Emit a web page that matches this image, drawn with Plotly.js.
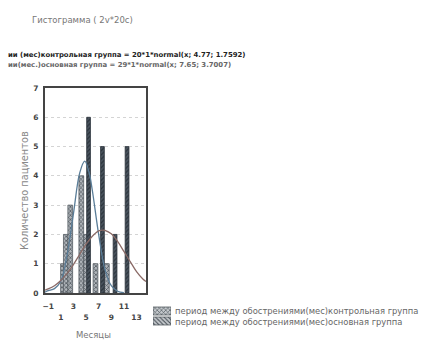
<!DOCTYPE html>
<html>
<head>
<meta charset="utf-8">
<script src="https://cdn.plot.ly/plotly-3.0.1.min.js"></script>
<style>html,body{margin:0;padding:0;background:#fff;}#chart{width:427px;height:340px;}</style>
</head>
<body>
<div id="chart"></div>
<script>
// hatched bars (control group), positions and counts
const controlX = [1.35, 1.8, 2.5, 4.25, 5.0, 6.5, 8.3];
const controlY = [1, 2, 3, 4, 2, 1, 1];
// dark bars (main group)
const mainX = [5.4, 7.6, 9.6, 11.5];
const mainY = [6, 5, 2, 5];
// fitted normal curves
const controlCurveX = [-1.5, -1, 0, 1, 2, 3, 4, 4.8, 5.5, 6, 7, 8, 9, 10, 11];
const controlCurveY = [0.03, 0.08, 0.15, 0.4, 1.3, 2.7, 4.1, 4.5, 4.1, 3.5, 2.0, 0.8, 0.25, 0.06, 0.01];
const mainCurveX = [-1.5, -1, 0, 1, 2, 3, 4, 5, 6, 7, 7.65, 8, 9, 10, 11, 12, 13, 14, 14.5];
const mainCurveY = [0.1, 0.14, 0.25, 0.43, 0.67, 0.97, 1.32, 1.67, 1.94, 2.12, 2.15, 2.14, 2.02, 1.76, 1.42, 1.07, 0.73, 0.48, 0.39];
const tickRow1 = [-1, 3, 7, 11];
const tickRow2 = [1, 5, 9, 13];
const yTicks = [0, 1, 2, 3, 4, 5, 6, 7];
const legendNames = ['период между обострениями(мес)контрольная группа', 'период между обострениями(мес)основная группа'];
const titleText = 'Гистограмма ( 2v*20c)';
const fitLines = ['ии (мес)контрольная группа = 20*1*normal(x; 4.77; 1.7592)',
                  'ии(мес.)основная группа = 29*1*normal(x; 7.65; 3.7007)'];

const W = 427, H = 340;
const px = v => v / W;          // pixel x -> paper
const py = v => (H - v) / H;    // pixel y -> paper
const font = 'DejaVu Sans, Verdana, sans-serif';
const xRange = [-1.5, 14.5];

const controlMarker = {color: '#a6abb0', line: {color: '#555d63', width: 0.8},
  pattern: {shape: 'x', fgcolor: '#454d54', bgcolor: '#b0b5ba', size: 3, solidity: 0.4}};
const mainMarker = {color: '#3c4650', line: {color: '#2c343c', width: 0.8},
  pattern: {shape: '/', fgcolor: '#2b333b', bgcolor: '#4a545e', size: 3, solidity: 0.4}};

const traces = [
  {type: 'bar', x: controlX, y: controlY, width: 0.75, name: legendNames[0], marker: controlMarker},
  {type: 'bar', x: mainX, y: mainY, width: 0.6, name: legendNames[1], marker: mainMarker},
  {type: 'scatter', mode: 'lines', x: controlCurveX, y: controlCurveY,
   line: {color: '#5a7d98', width: 1.3, shape: 'spline'}},
  {type: 'scatter', mode: 'lines', x: mainCurveX, y: mainCurveY,
   line: {color: '#8a6a66', width: 1.3, shape: 'spline'}},
  // invisible carrier for the second row of x tick labels
  {type: 'scatter', mode: 'markers', x: [tickRow2[0]], y: [0], xaxis: 'x3', yaxis: 'y',
   marker: {opacity: 0}, hoverinfo: 'skip'},
  // legend swatches
  {type: 'bar', orientation: 'h', x: [1], y: [1], width: 0.8, xaxis: 'x2', yaxis: 'y2',
   marker: {color: '#b0b5ba', line: {color: '#555d63', width: 0.8},
            pattern: {shape: 'x', fgcolor: '#454d54', bgcolor: '#c4c8cc', size: 3, solidity: 0.35}}},
  {type: 'bar', orientation: 'h', x: [1], y: [0], width: 0.8, xaxis: 'x2', yaxis: 'y2',
   marker: {color: '#b0b5ba', line: {color: '#555d63', width: 0.8},
            pattern: {shape: '\\', fgcolor: '#454d54', bgcolor: '#c4c8cc', size: 3, solidity: 0.35}}}
];

const tickFont = {family: font, size: 7.5, color: '#444', weight: 'bold'};

const layout = {
  width: W, height: H,
  margin: {l: 0, r: 0, t: 0, b: 0},
  paper_bgcolor: '#fff', plot_bgcolor: '#fff',
  barmode: 'overlay',
  showlegend: false,
  xaxis: {domain: [px(45), px(146)], range: xRange, tickvals: tickRow1,
          showgrid: false, zeroline: false, showline: true, mirror: true,
          linecolor: '#444', linewidth: 2, ticks: '', ticklabelstandoff: 5,
          tickfont: tickFont},
  xaxis3: {overlaying: 'x', anchor: 'y', side: 'bottom', range: xRange, tickvals: tickRow2,
           showgrid: false, zeroline: false, showline: false, ticks: '', ticklabelstandoff: 18,
           tickfont: tickFont},
  yaxis: {domain: [py(293), py(88)], range: [0, 7], tickvals: yTicks, showgrid: true,
          gridcolor: '#d4d4d4', griddash: 'dot',
          zeroline: false, showline: true, mirror: true, linecolor: '#444', linewidth: 2, ticks: '',
          ticklabelstandoff: 3, tickfont: tickFont},
  xaxis2: {domain: [px(153), px(171)], anchor: 'y2', range: [0, 1], visible: false, fixedrange: true},
  yaxis2: {domain: [py(326), py(306)], anchor: 'x2', range: [-0.5, 1.5], visible: false, fixedrange: true},
  annotations: [
    {xref: 'paper', yref: 'paper', x: px(30), y: py(20), xanchor: 'left', yanchor: 'middle', showarrow: false,
     text: titleText, font: {family: font, size: 8.5, color: '#777'}},
    {xref: 'paper', yref: 'paper', x: px(6), y: py(55), xanchor: 'left', yanchor: 'middle', showarrow: false,
     text: fitLines[0], font: {family: font, size: 6.9, color: '#222', weight: 'bold'}},
    {xref: 'paper', yref: 'paper', x: px(6), y: py(65), xanchor: 'left', yanchor: 'middle', showarrow: false,
     text: fitLines[1], font: {family: font, size: 6.9, color: '#666', weight: 'bold'}},
    {xref: 'paper', yref: 'paper', x: px(24), y: py(191), xanchor: 'center', yanchor: 'middle', showarrow: false,
     textangle: -90, text: 'Количество пациентов', font: {family: font, size: 9.8, color: '#888'}},
    {xref: 'paper', yref: 'paper', x: px(93), y: py(335), xanchor: 'center', yanchor: 'middle', showarrow: false,
     text: 'Месяцы', font: {family: font, size: 8.5, color: '#777'}},
    {xref: 'paper', yref: 'paper', x: px(173), y: py(311), xanchor: 'left', yanchor: 'middle', showarrow: false,
     text: legendNames[0], font: {family: font, size: 8.4, color: '#666'}},
    {xref: 'paper', yref: 'paper', x: px(173), y: py(322), xanchor: 'left', yanchor: 'middle', showarrow: false,
     text: legendNames[1], font: {family: font, size: 8.4, color: '#666'}}
  ]
};

Plotly.newPlot('chart', traces, layout, {displayModeBar: false, staticPlot: true});
</script>
</body>
</html>
